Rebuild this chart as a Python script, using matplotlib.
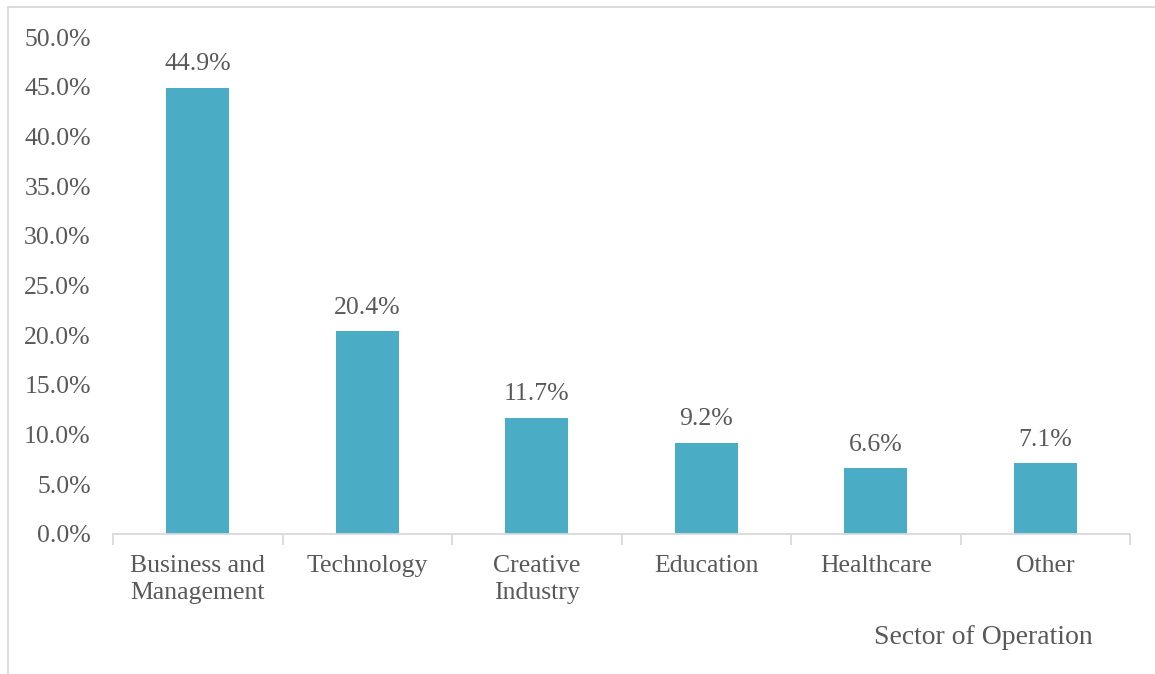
import matplotlib
matplotlib.use("Agg")
import matplotlib.pyplot as plt
from matplotlib.patches import Rectangle
from matplotlib.ticker import FuncFormatter

sectors = ["Business and\nManagement", "Technology", "Creative\nIndustry",
           "Education", "Healthcare", "Other"]
shares = [44.9, 20.4, 11.7, 9.2, 6.6, 7.1]
y_ticks = [0, 5, 10, 15, 20, 25, 30, 35, 40, 45, 50]

BAR = "#4BACC6"
TEXT = "#595959"
GRID = "#D9D9D9"
FONT = ["Liberation Serif", "DejaVu Serif"]

plt.rcParams["font.family"] = FONT

W, H = 1155, 674
fig = plt.figure(figsize=(W / 100, H / 100), dpi=100)

# chart-area frame (cropped at right and bottom)
fig.patches.append(Rectangle((8 / W, -0.1), 1.2, 1 - 7 / H + 0.1,
                             transform=fig.transFigure, fill=False,
                             edgecolor=GRID, linewidth=1.3))

ax = fig.add_axes([113 / W, (H - 534) / H, (1130 - 113) / W, (534 - 37) / H])
x = list(range(len(sectors)))
bars = ax.bar(x, shares, width=0.37, color=BAR, edgecolor="none")
ax.set_xlim(-0.5, len(sectors) - 0.5)
ax.set_ylim(0, 50)
ax.set_yticks(y_ticks)
ax.yaxis.set_major_formatter(FuncFormatter(lambda v, p: f"{v:.1f}%"))

for s in ["top", "right", "left"]:
    ax.spines[s].set_visible(False)
ax.spines["bottom"].set_color(GRID)
ax.spines["bottom"].set_linewidth(1.3)

FS = 18.5
ax.tick_params(axis="y", length=0, labelsize=FS, labelcolor=TEXT, pad=16)
ax.set_xticks(x)
ax.set_xticklabels(sectors, fontsize=FS, color=TEXT, linespacing=1.3)
ax.tick_params(axis="x", which="major", length=0, pad=15)
ax.set_xticks([i - 0.5 for i in range(len(sectors) + 1)], minor=True)
ax.tick_params(axis="x", which="minor", length=8, width=1.3, color=GRID)

for rect, v in zip(bars, shares):
    ax.annotate(f"{v:.1f}%", (rect.get_x() + rect.get_width() / 2, v),
                xytext=(0, 9), textcoords="offset points",
                ha="center", va="bottom", fontsize=FS, color=TEXT)

fig.text(1093 / W, (H - 638) / H, "Sector of Operation", ha="right",
         va="center", fontsize=20, color=TEXT)

fig.savefig("out.png", dpi=100)
